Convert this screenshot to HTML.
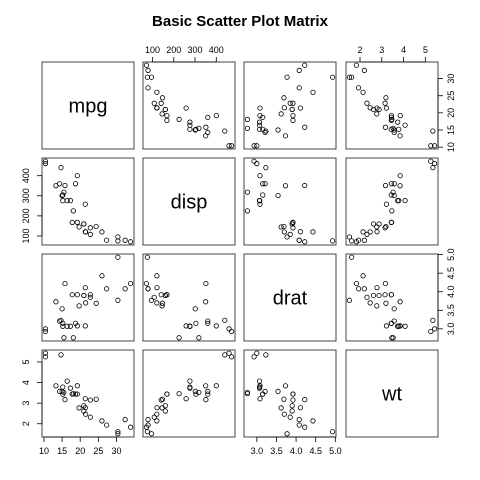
<!DOCTYPE html>
<html><head><meta charset="utf-8"><style>
body{margin:0;background:#fff}
svg{display:block;font-family:"Liberation Sans",sans-serif}
</style></head><body>
<svg id="chart" width="480" height="480" viewBox="0 0 480 480">
<text x="240" y="26" text-anchor="middle" font-weight="bold" font-size="15">Basic Scatter Plot Matrix</text>
</svg>
<script>
const varNames = ["mpg","disp","drat","wt"];
const mpg = [21,21,22.8,21.4,18.7,18.1,14.3,24.4,22.8,19.2,17.8,16.4,17.3,15.2,10.4,10.4,14.7,32.4,30.4,33.9,21.5,15.5,15.2,13.3,19.2,27.3,26,30.4,15.8,19.7,15,21.4];
const disp = [160,160,108,258,360,225,360,146.7,140.8,167.6,167.6,275.8,275.8,275.8,472,460,440,78.7,75.7,71.1,120.1,318,304,350,400,79,120.3,95.1,351,145,301,121];
const drat = [3.9,3.9,3.85,3.08,3.15,2.76,3.21,3.69,3.92,3.92,3.92,3.07,3.07,3.07,2.93,3,3.23,4.08,4.93,4.22,3.7,2.76,3.15,3.73,3.08,4.08,4.43,3.77,4.22,3.62,3.54,4.11];
const wt = [2.62,2.875,2.32,3.215,3.44,3.46,3.57,3.19,3.15,3.44,3.44,4.07,3.73,3.78,5.25,5.424,5.345,2.2,1.615,1.835,2.465,3.52,3.435,3.84,3.845,1.935,2.14,1.513,3.17,2.77,3.57,2.78];
const mpgTicks = [10,15,20,25,30];
const dispTicks = [100,200,300,400];
const dratTicks = [3.0,3.5,4.0,4.5,5.0];
const wtTicks = [2,3,4,5];

const data=[mpg,disp,drat,wt];
const ticks=[mpgTicks,dispTicks,dratTicks,wtTicks];
const fmt=[v=>String(v),v=>String(v),v=>v.toFixed(1),v=>String(v)];
const NS="http://www.w3.org/2000/svg";
const svg=document.getElementById('chart');
const X0=[42,143,244,346], Y0=[62,158,254,350], W=92, H=87;
function ext(a){const mn=Math.min(...a),mx=Math.max(...a),r=mx-mn;return [mn-0.04*r,mx+0.04*r];}
const rng=data.map(ext);
function sx(j,v){const [a,b]=rng[j];return X0[j]+(v-a)/(b-a)*W;}
function sy(i,v){const [a,b]=rng[i];return Y0[i]+H-(v-a)/(b-a)*H;}
function mk(tag,at){const e=document.createElementNS(NS,tag);for(const k in at)e.setAttribute(k,at[k]);svg.appendChild(e);return e;}
for(let i=0;i<4;i++)for(let j=0;j<4;j++){
  const f=mk('rect',{x:X0[j],y:Y0[i],width:W,height:H,fill:'none',stroke:'#444','stroke-width':1});
  
  
  if(i===j){
    const t=mk('text',{x:X0[j]+W/2,y:Y0[i]+H/2+7,'text-anchor':'middle','font-size':20});
    t.textContent=varNames[i];
    
    
    continue;
  }
  for(let k=0;k<data[i].length;k++){
    const c=mk('circle',{cx:sx(j,data[j][k]),cy:sy(i,data[i][k]),r:2.2,fill:'none',stroke:'#000','stroke-width':0.8});
    
    
  }
}
function axis(side,idx){
  const tk=ticks[idx];
  for(const v of tk){
    let l,t;
    if(side==='top'||side==='bottom'){
      const x=sx(idx,v);const y=side==='top'?Y0[0]:Y0[3]+H;const d=side==='top'?-5:5;
      l=mk('line',{x1:x,y1:y,x2:x,y2:y+d,stroke:'#000','stroke-width':0.8});
      t=mk('text',{x:x,y:side==='top'?y-9:y+17,'text-anchor':'middle','font-size':9});
    }else{
      const y=sy(idx,v);const x=side==='left'?X0[0]:X0[3]+W;const d=side==='left'?-5:5;
      l=mk('line',{x1:x,y1:y,x2:x+d,y2:y,stroke:'#000','stroke-width':0.8});
      const tx=side==='left'?x-13:x+16;
      t=mk('text',{x:tx,y:y,'text-anchor':'middle','font-size':9,transform:`rotate(-90 ${tx} ${y})`});
    }
    t.textContent=fmt[idx](v);
    
    
    
    
  }
  const a=tk[0],b=tk[tk.length-1];
  let al;
  if(side==='top'||side==='bottom'){const yy=side==='top'?Y0[0]:Y0[3]+H;al=mk('line',{x1:sx(idx,a),y1:yy,x2:sx(idx,b),y2:yy,stroke:'#000','stroke-width':0.8});}
  else{const xx=side==='left'?X0[0]:X0[3]+W;al=mk('line',{x1:xx,y1:sy(idx,a),x2:xx,y2:sy(idx,b),stroke:'#000','stroke-width':0.8});}
  
  
}
axis('top',1);axis('top',3);axis('bottom',0);axis('bottom',2);
axis('left',1);axis('left',3);axis('right',0);axis('right',2);
</script>
</body></html>
